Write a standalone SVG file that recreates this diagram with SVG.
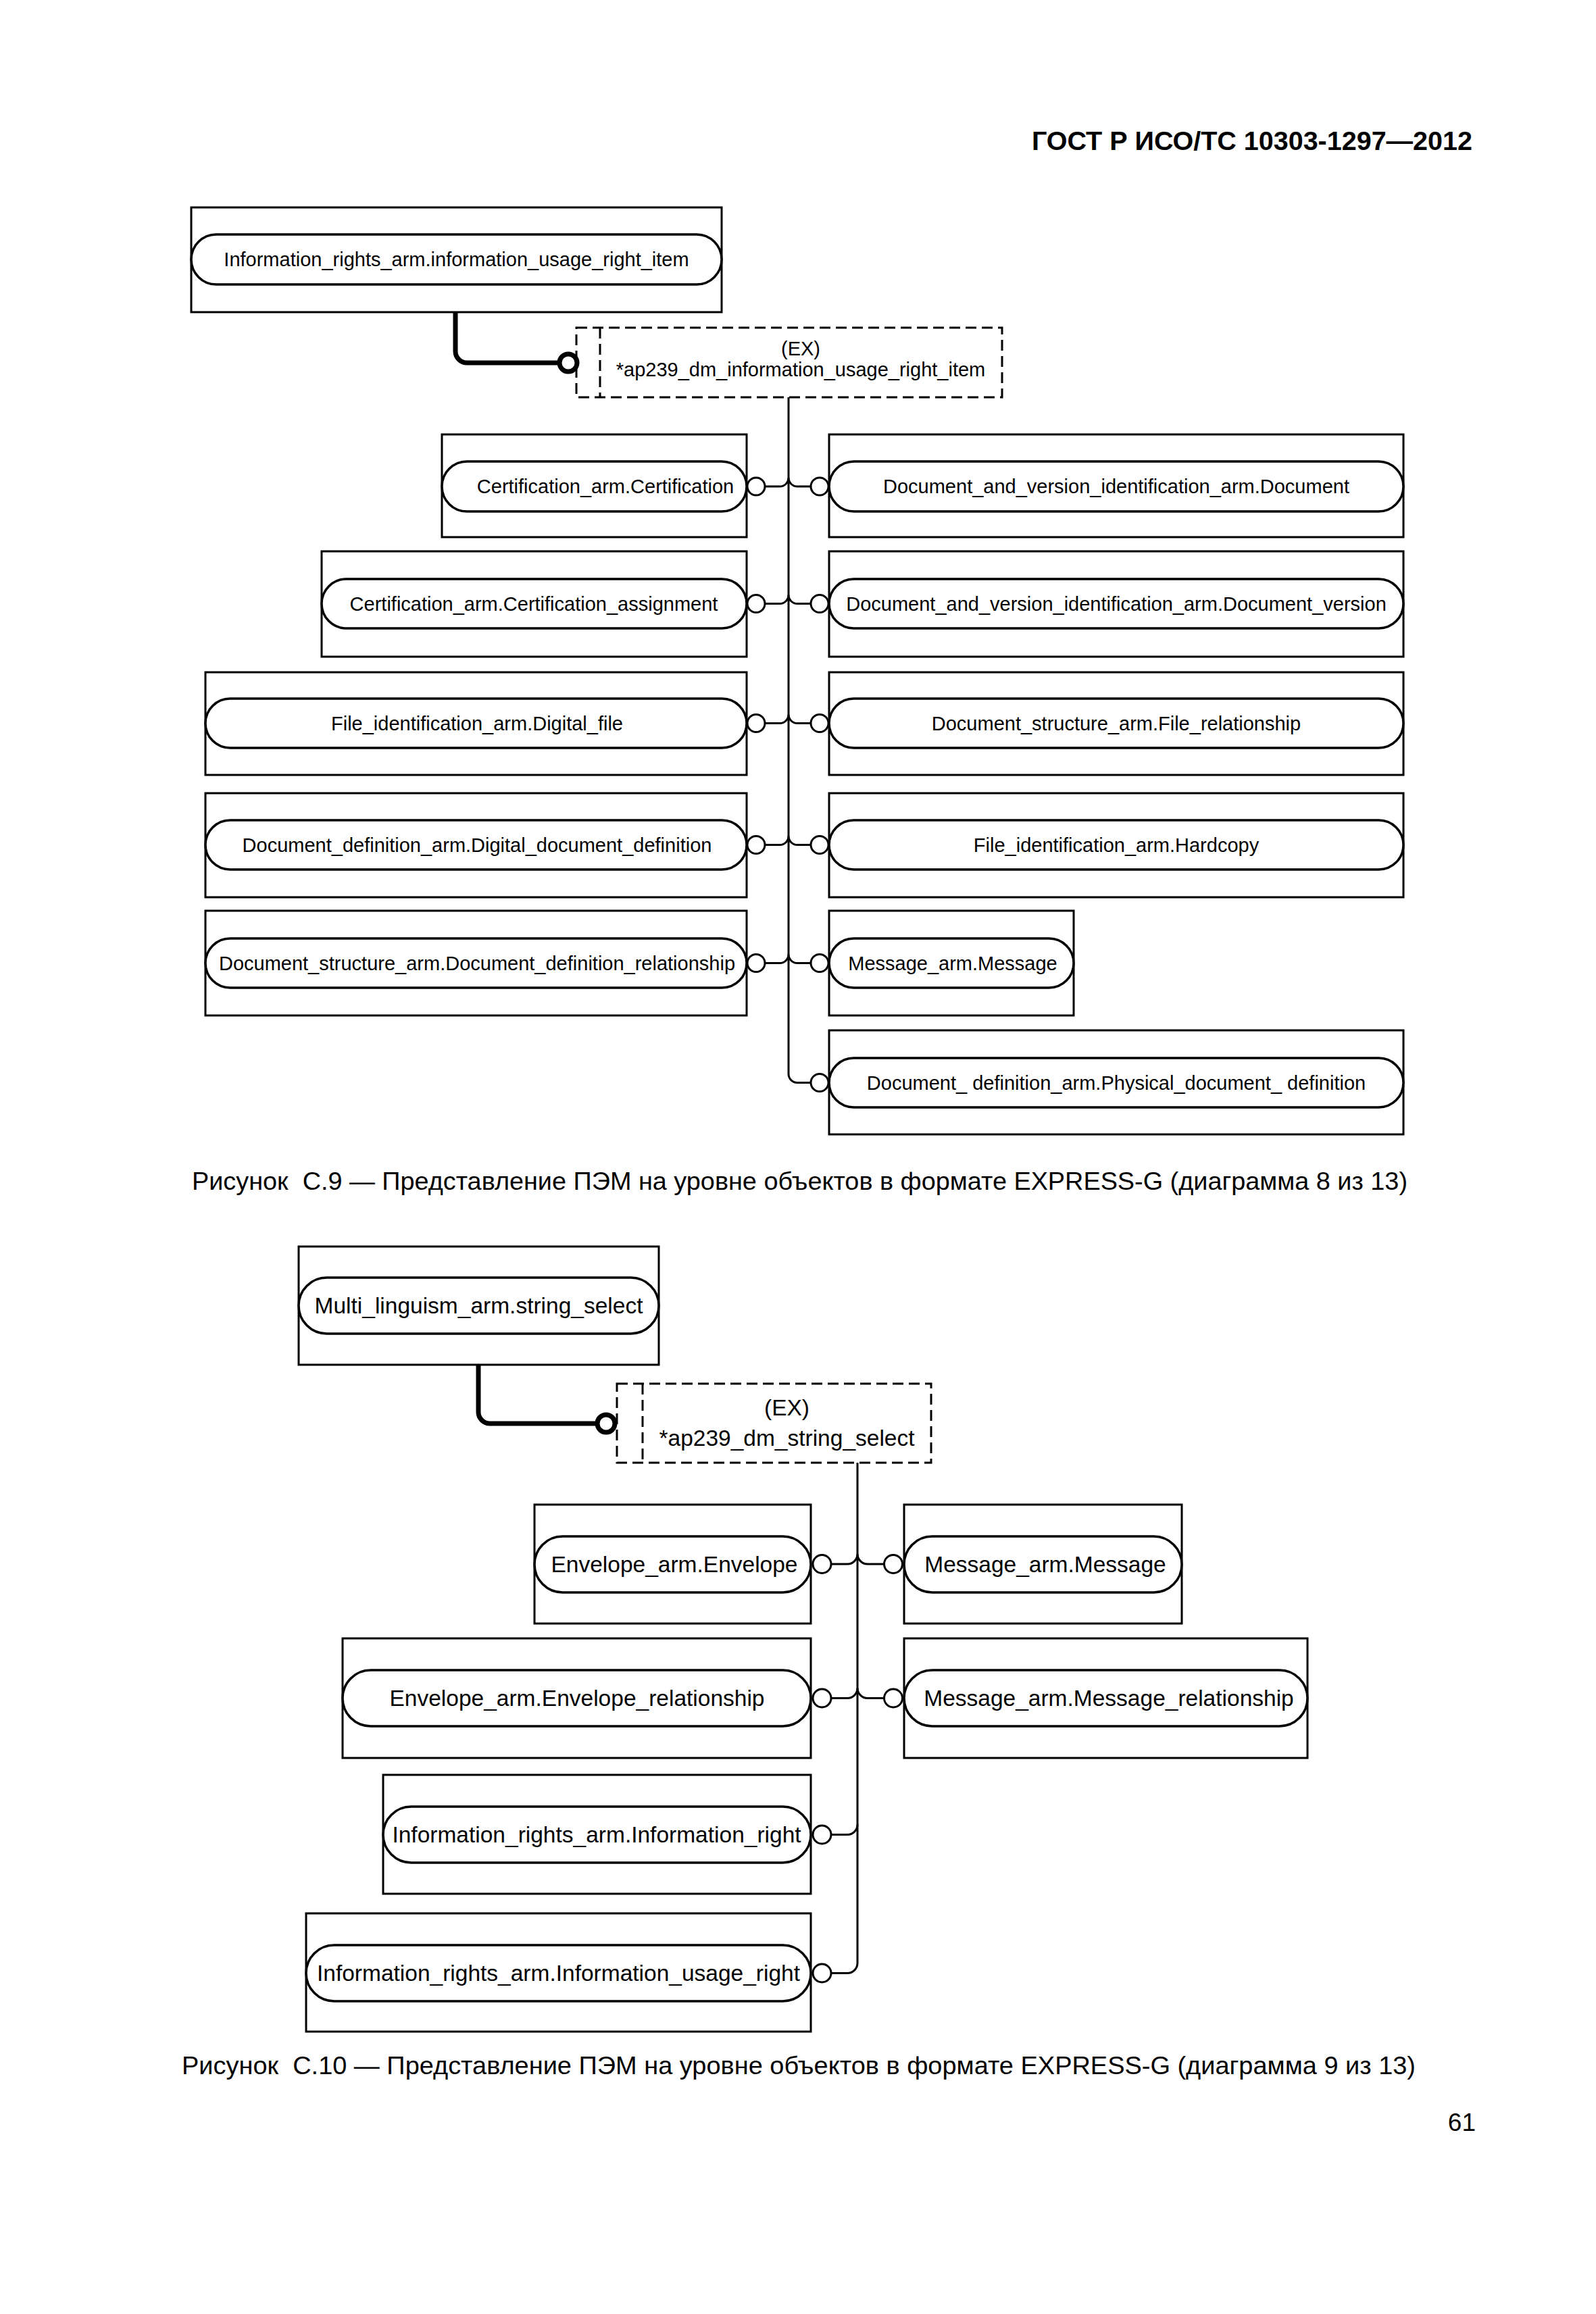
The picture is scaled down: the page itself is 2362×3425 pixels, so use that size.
<svg xmlns="http://www.w3.org/2000/svg" width="2362" height="3425" viewBox="0 0 2362 3425">
<style>
.box{fill:#fff;stroke:#000;stroke-width:3}
.pill{fill:#fff;stroke:#000;stroke-width:3.5}
.ex{fill:#fff;stroke:#000;stroke-width:3;stroke-dasharray:16 8}
.exl{fill:none;stroke:#000;stroke-width:3;stroke-dasharray:16 8}
.t1{font-family:"Liberation Sans",Arial,sans-serif;font-size:29px;text-anchor:middle;fill:#000}
.t2{font-family:"Liberation Sans",Arial,sans-serif;font-size:33.5px;text-anchor:middle;fill:#000}
.cap{font-family:"Liberation Sans",Arial,sans-serif;font-size:36px;fill:#000}
.conn{fill:none;stroke:#000;stroke-width:3}
.thick{fill:none;stroke:#000;stroke-width:7}
.circ{fill:#fff;stroke:#000;stroke-width:3}
.circT{fill:#fff;stroke:#000;stroke-width:7}
</style>
<rect x="0" y="0" width="2362" height="3425" fill="#fff"/>
<text x="2179" y="222" font-family="Liberation Sans, Arial, sans-serif" font-size="39.5" font-weight="bold" text-anchor="end">ГОСТ Р ИСО/ТС 10303-1297—2012</text>

<!-- Diagram C.9 -->
<g id="d1_top">
<rect class="box" x="283" y="307" width="785" height="155"/>
<rect class="pill" x="283" y="347" width="785" height="74" rx="37" ry="37"/>
<text class="t1" x="675.5" y="394">Information_rights_arm.information_usage_right_item</text>
</g>
<g id="d1_ex">
<rect class="ex" x="853" y="485" width="630" height="103"/>
<line class="exl" x1="888" y1="485" x2="888" y2="588"/>
<text class="t1" x="1185" y="526">(EX)</text>
<text class="t1" x="1185" y="557">*ap239_dm_information_usage_right_item</text>
</g>
<g id="d1_r1l">
<rect class="box" x="654" y="643" width="451" height="152"/>
<rect class="pill" x="654" y="683" width="451" height="74" rx="37" ry="37"/>
<text class="t1" x="896" y="730">Certification_arm.Certification</text>
</g>
<g id="d1_r1r">
<rect class="box" x="1227" y="643" width="850" height="152"/>
<rect class="pill" x="1227" y="683" width="850" height="74" rx="37" ry="37"/>
<text class="t1" x="1652" y="730">Document_and_version_identification_arm.Document</text>
</g>
<g id="d1_r2l">
<rect class="box" x="476" y="816" width="629" height="156"/>
<rect class="pill" x="476" y="857" width="629" height="73" rx="36.5" ry="36.5"/>
<text class="t1" x="790" y="904">Certification_arm.Certification_assignment</text>
</g>
<g id="d1_r2r">
<rect class="box" x="1227" y="816" width="850" height="156"/>
<rect class="pill" x="1227" y="857" width="850" height="73" rx="36.5" ry="36.5"/>
<text class="t1" x="1652" y="904">Document_and_version_identification_arm.Document_version</text>
</g>
<g id="d1_r3l">
<rect class="box" x="304" y="995" width="801" height="152"/>
<rect class="pill" x="304" y="1034" width="801" height="73" rx="36.5" ry="36.5"/>
<text class="t1" x="706" y="1081">File_identification_arm.Digital_file</text>
</g>
<g id="d1_r3r">
<rect class="box" x="1227" y="995" width="850" height="152"/>
<rect class="pill" x="1227" y="1034" width="850" height="73" rx="36.5" ry="36.5"/>
<text class="t1" x="1652" y="1081">Document_structure_arm.File_relationship</text>
</g>
<g id="d1_r4l">
<rect class="box" x="304" y="1174" width="801" height="154"/>
<rect class="pill" x="304" y="1214" width="801" height="73" rx="36.5" ry="36.5"/>
<text class="t1" x="706" y="1261">Document_definition_arm.Digital_document_definition</text>
</g>
<g id="d1_r4r">
<rect class="box" x="1227" y="1174" width="850" height="154"/>
<rect class="pill" x="1227" y="1214" width="850" height="73" rx="36.5" ry="36.5"/>
<text class="t1" x="1652" y="1261">File_identification_arm.Hardcopy</text>
</g>
<g id="d1_r5l">
<rect class="box" x="304" y="1348" width="801" height="155"/>
<rect class="pill" x="304" y="1389" width="801" height="73" rx="36.5" ry="36.5"/>
<text class="t1" x="706" y="1436">Document_structure_arm.Document_definition_relationship</text>
</g>
<g id="d1_r5r">
<rect class="box" x="1227" y="1348" width="362" height="155"/>
<rect class="pill" x="1227" y="1389" width="362" height="73" rx="36.5" ry="36.5"/>
<text class="t1" x="1410" y="1436">Message_arm.Message</text>
</g>
<g id="d1_r6r">
<rect class="box" x="1227" y="1525" width="850" height="154"/>
<rect class="pill" x="1227" y="1566" width="850" height="73" rx="36.5" ry="36.5"/>
<text class="t1" x="1652" y="1613">Document_ definition_arm.Physical_document_ definition</text>
</g>

<g id="d1_connectors">
<path class="thick" d="M674,462 V520 A17,17 0 0 0 691,537 H826"/>
<circle class="circT" cx="841" cy="537" r="13"/>
<path class="conn" d="M1167,588 V1590 A13,13 0 0 0 1180,1602.5 H1199"/>
<path class="conn" d="M1133,720 H1154 A13,13 0 0 0 1167,707 A13,13 0 0 0 1180,720 H1199"/>
<path class="conn" d="M1133,893.5 H1154 A13,13 0 0 0 1167,880.5 A13,13 0 0 0 1180,893.5 H1199"/>
<path class="conn" d="M1133,1070.5 H1154 A13,13 0 0 0 1167,1057.5 A13,13 0 0 0 1180,1070.5 H1199"/>
<path class="conn" d="M1133,1250.5 H1154 A13,13 0 0 0 1167,1237.5 A13,13 0 0 0 1180,1250.5 H1199"/>
<path class="conn" d="M1133,1425.5 H1154 A13,13 0 0 0 1167,1412.5 A13,13 0 0 0 1180,1425.5 H1199"/>
<circle class="circ" cx="1119" cy="720" r="13"/>
<circle class="circ" cx="1213" cy="720" r="13"/>
<circle class="circ" cx="1119" cy="893.5" r="13"/>
<circle class="circ" cx="1213" cy="893.5" r="13"/>
<circle class="circ" cx="1119" cy="1070.5" r="13"/>
<circle class="circ" cx="1213" cy="1070.5" r="13"/>
<circle class="circ" cx="1119" cy="1250.5" r="13"/>
<circle class="circ" cx="1213" cy="1250.5" r="13"/>
<circle class="circ" cx="1119" cy="1425.5" r="13"/>
<circle class="circ" cx="1213" cy="1425.5" r="13"/>
<circle class="circ" cx="1213" cy="1602.5" r="13"/>
</g>

<text class="cap" x="284" y="1761" textLength="1799" lengthAdjust="spacingAndGlyphs" xml:space="preserve">Рисунок  C.9 — Представление ПЭМ на уровне объектов в формате EXPRESS-G (диаграмма 8 из 13)</text>

<!-- Diagram C.10 -->
<g id="d2_top">
<rect class="box" x="442" y="1845" width="533" height="175"/>
<rect class="pill" x="442" y="1891" width="533" height="83" rx="41.5" ry="41.5"/>
<text class="t2" x="708.5" y="1944">Multi_linguism_arm.string_select</text>
</g>
<g id="d2_ex">
<rect class="ex" x="913" y="2048" width="465" height="117"/>
<line class="exl" x1="951" y1="2048" x2="951" y2="2165"/>
<text class="t2" x="1164.5" y="2095">(EX)</text>
<text class="t2" x="1164.5" y="2140">*ap239_dm_string_select</text>
</g>
<g id="d2_r1l">
<rect class="box" x="791" y="2227" width="409" height="176"/>
<rect class="pill" x="791" y="2274" width="409" height="83" rx="41.5" ry="41.5"/>
<text class="t2" x="998" y="2327">Envelope_arm.Envelope</text>
</g>
<g id="d2_r1r">
<rect class="box" x="1338" y="2227" width="411" height="176"/>
<rect class="pill" x="1338" y="2274" width="411" height="83" rx="41.5" ry="41.5"/>
<text class="t2" x="1547" y="2327">Message_arm.Message</text>
</g>
<g id="d2_r2l">
<rect class="box" x="507" y="2425" width="693" height="177"/>
<rect class="pill" x="507" y="2472" width="693" height="83" rx="41.5" ry="41.5"/>
<text class="t2" x="854" y="2525">Envelope_arm.Envelope_relationship</text>
</g>
<g id="d2_r2r">
<rect class="box" x="1338" y="2425" width="597" height="177"/>
<rect class="pill" x="1338" y="2472" width="597" height="83" rx="41.5" ry="41.5"/>
<text class="t2" x="1641" y="2525">Message_arm.Message_relationship</text>
</g>
<g id="d2_r3l">
<rect class="box" x="567" y="2627" width="633" height="176"/>
<rect class="pill" x="567" y="2674" width="633" height="83" rx="41.5" ry="41.5"/>
<text class="t2" x="883" y="2727">Information_rights_arm.Information_right</text>
</g>
<g id="d2_r4l">
<rect class="box" x="453" y="2832" width="747" height="175"/>
<rect class="pill" x="453" y="2879" width="747" height="83" rx="41.5" ry="41.5"/>
<text class="t2" x="826.5" y="2932">Information_rights_arm.Information_usage_right</text>
</g>

<g id="d2_connectors">
<path class="thick" d="M708,2020 V2090 A17,17 0 0 0 725,2107 H882"/>
<circle class="circT" cx="897" cy="2107" r="13"/>
<path class="conn" d="M1269,2165 V2905.5 A15,15 0 0 1 1254,2920.5 H1231"/>
<path class="conn" d="M1231,2315 H1254 A15,15 0 0 0 1269,2300 A15,15 0 0 0 1284,2315 H1308"/>
<path class="conn" d="M1231,2513.5 H1254 A15,15 0 0 0 1269,2498.5 A15,15 0 0 0 1284,2513.5 H1308"/>
<path class="conn" d="M1231,2715.5 H1254 A15,15 0 0 0 1269,2700.5"/>
<circle class="circ" cx="1216.5" cy="2315" r="13.5"/>
<circle class="circ" cx="1322" cy="2315" r="13.5"/>
<circle class="circ" cx="1216.5" cy="2513.5" r="13.5"/>
<circle class="circ" cx="1322" cy="2513.5" r="13.5"/>
<circle class="circ" cx="1216.5" cy="2715.5" r="13.5"/>
<circle class="circ" cx="1216.5" cy="2920.5" r="13.5"/>
</g>

<text class="cap" x="269" y="3070" textLength="1826" lengthAdjust="spacingAndGlyphs" xml:space="preserve">Рисунок  C.10 — Представление ПЭМ на уровне объектов в формате EXPRESS-G (диаграмма 9 из 13)</text>
<text x="2184" y="3154" font-family="Liberation Sans, Arial, sans-serif" font-size="37" text-anchor="end">61</text>
</svg>
